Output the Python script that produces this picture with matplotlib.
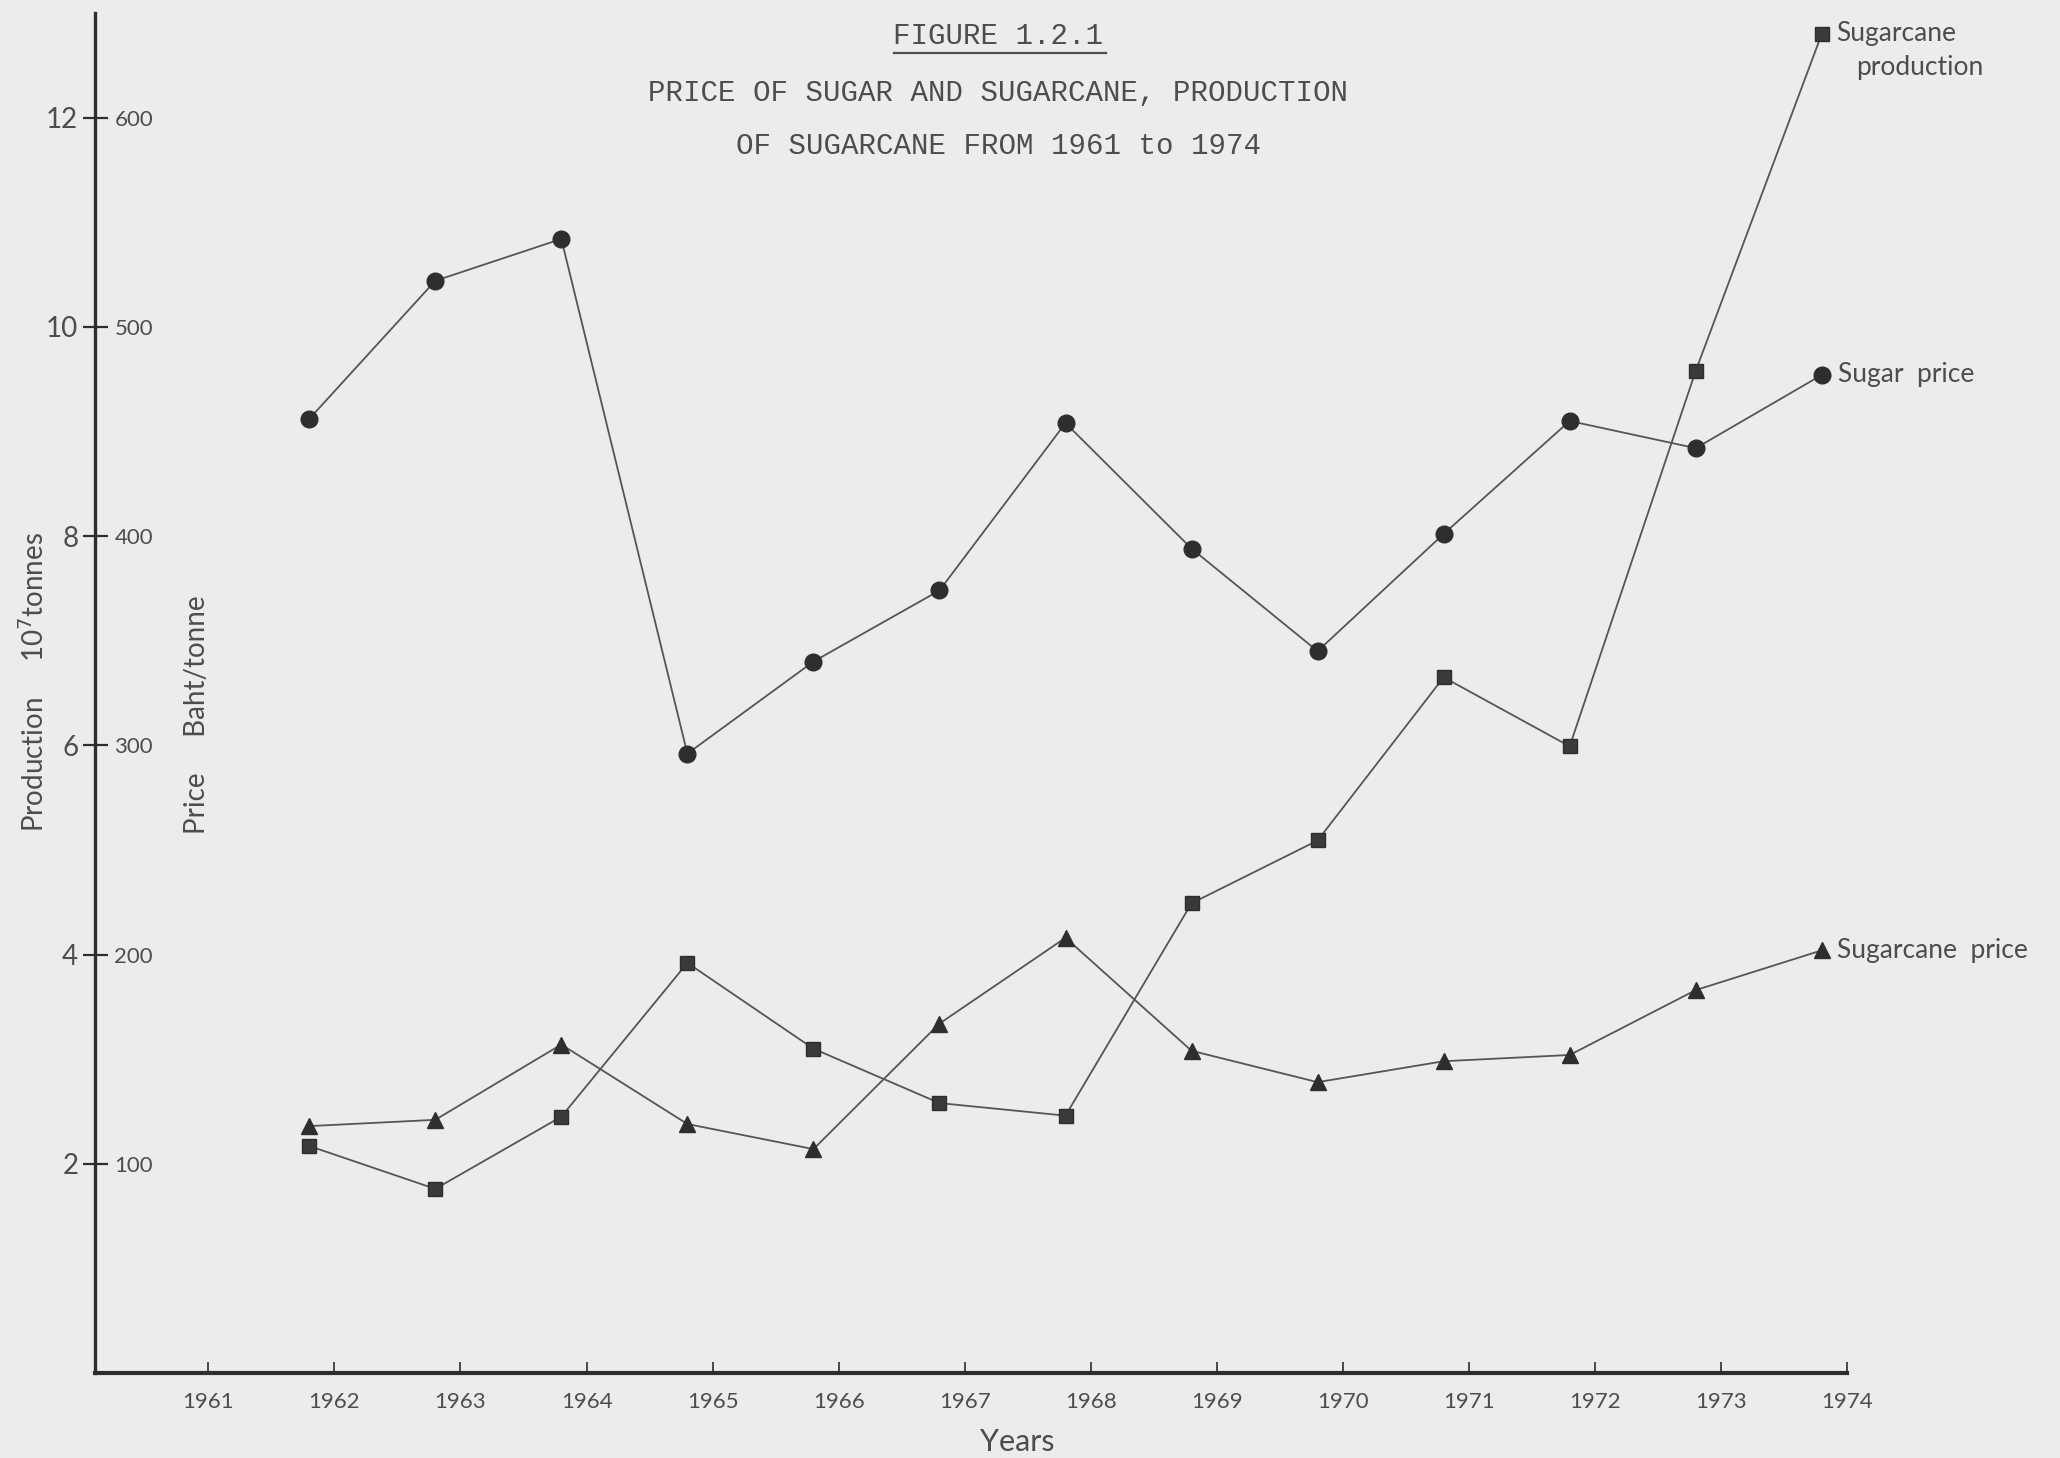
"""
Figure 1.2.1 - price of sugar and sugarcane, production of sugarcane 1961-1974.
Scanned typewriter-era chart rebuilt with matplotlib.
"""

import matplotlib
matplotlib.use("Agg")
import matplotlib.pyplot as plt
from matplotlib.lines import Line2D


# ---------------------------------------------------------------------------
# Data
# ---------------------------------------------------------------------------

years = [1962, 1963, 1964, 1965, 1966, 1967, 1968,
         1969, 1970, 1971, 1972, 1973, 1974]

# 10^7 tonnes
cane_production = [2.17, 1.76, 2.45, 3.92, 3.10, 2.58, 2.46,
                   4.49, 5.09, 6.65, 5.99, 9.58, 12.80]

# Baht / tonne
sugar_price = [456, 522, 542, 296, 340, 374, 454,
               394, 345, 401, 455, 442, 477]
cane_price = [118, 121, 157, 119, 107, 167, 208,
              154, 139, 149, 152, 183, 202]

year_ticks = list(range(1961, 1975))
production_ticks = [2, 4, 6, 8, 10, 12]
price_ticks = [100, 200, 300, 400, 500, 600]

title_lines = ["PRICE OF SUGAR AND SUGARCANE, PRODUCTION",
               "OF SUGARCANE FROM 1961 to 1974"]


# ---------------------------------------------------------------------------
# Style
# ---------------------------------------------------------------------------

BG = "#ececea"
INK = "#2e2e2e"
LINE = "#555555"
TEXT = "#4d4d4d"
SANS = ["Lato", "DejaVu Sans"]
MONO = ["Liberation Mono", "DejaVu Sans Mono"]

X_SHIFT = -0.2       # points sit a little left of the year ticks on the scan

plt.rcParams["font.family"] = SANS

fig = plt.figure(figsize=(20.60, 14.58), dpi=100, facecolor=BG)
ax = fig.add_axes([0.0461, 0.0583, 0.8505, 0.9328])
ax.set_facecolor("none")

ax.set_xlim(1960.1, 1974.0)
ax.set_ylim(0, 13.0)

# price axis shares the left spine: 50 baht per production unit
ax2 = ax.twinx()
ax2.set_ylim(0, 13.0 * 50)
ax2.spines["right"].set_position(("axes", 0.0))
for s in ax2.spines.values():
    s.set_visible(False)

for side in ("top", "right"):
    ax.spines[side].set_visible(False)
ax.spines["left"].set_linewidth(2.4)
ax.spines["left"].set_color(INK)
ax.spines["bottom"].set_linewidth(3.0)
ax.spines["bottom"].set_color(INK)

# x ticks point up into the plot
ax.set_xticks(year_ticks)
ax.set_xticklabels([str(y) for y in year_ticks])
ax.tick_params(axis="x", direction="in", length=8, width=1.2, color=INK,
               pad=14, labelsize=16, labelcolor=TEXT)

# production ticks cross the axis, labels on the left
ax.set_yticks(production_ticks)
ax.set_yticklabels([str(v) for v in production_ticks])
ax.tick_params(axis="y", direction="inout", length=18, width=1.6, color=INK,
               pad=3, labelsize=20, labelcolor=TEXT)

# price labels to the right of the same axis line
ax2.set_yticks(price_ticks)
ax2.set_yticklabels([str(v) for v in price_ticks])
ax2.tick_params(axis="y", right=True, length=0, pad=14,
                labelsize=16, labelcolor=TEXT)

# ---------------------------------------------------------------------------
# Series
# ---------------------------------------------------------------------------

xs = [y + X_SHIFT for y in years]

ax2.plot(xs, sugar_price, color=LINE, lw=1.3, marker="o", ms=12,
         mfc=INK, mec=INK, zorder=3)
ax.plot(xs, cane_production, color=LINE, lw=1.3, marker="s", ms=10,
        mfc="#3a3a3a", mec=INK, zorder=3)
ax2.plot(xs, cane_price, color=LINE, lw=1.3, marker="^", ms=11,
         mfc=INK, mec=INK, zorder=3)

# end-of-line labels
ax.annotate("Sugarcane", xy=(xs[-1], cane_production[-1]),
            xytext=(10, 0), textcoords="offset points", va="center",
            fontsize=19, color=TEXT, annotation_clip=False)
ax.annotate("production", xy=(xs[-1], cane_production[-1]),
            xytext=(25, -24), textcoords="offset points", va="center",
            fontsize=19, color=TEXT, annotation_clip=False)
ax2.annotate("Sugar  price", xy=(xs[-1], sugar_price[-1]),
             xytext=(12, 0), textcoords="offset points", va="center",
             fontsize=19, color=TEXT, annotation_clip=False)
ax2.annotate("Sugarcane  price", xy=(xs[-1], cane_price[-1]),
             xytext=(11, 0), textcoords="offset points", va="center",
             fontsize=19, color=TEXT, annotation_clip=False)

# ---------------------------------------------------------------------------
# Labels and title
# ---------------------------------------------------------------------------

fig.text(0.0165, 0.532, r"Production     10$^7$tonnes", rotation=90,
         ha="center", va="center", fontsize=20, color=TEXT)
fig.text(0.0955, 0.51, "Price     Baht/tonne", rotation=90,
         ha="center", va="center", fontsize=20, color=TEXT)
fig.text(0.494, 0.011, "Years", ha="center", va="center",
         fontsize=22, color=TEXT)

fig.text(0.4846, 0.975, "FIGURE 1.2.1", ha="center", va="center",
         family=MONO, fontsize=21, color=TEXT)
fig.add_artist(Line2D([0.434, 0.537], [0.9635, 0.9635],
                      transform=fig.transFigure, color=TEXT, lw=1.6))
fig.text(0.4846, 0.936, title_lines[0], ha="center", va="center",
         family=MONO, fontsize=21, color=TEXT)
fig.text(0.4846, 0.900, title_lines[1], ha="center", va="center",
         family=MONO, fontsize=21, color=TEXT)

fig.savefig("out.png", dpi=100, facecolor=BG)
